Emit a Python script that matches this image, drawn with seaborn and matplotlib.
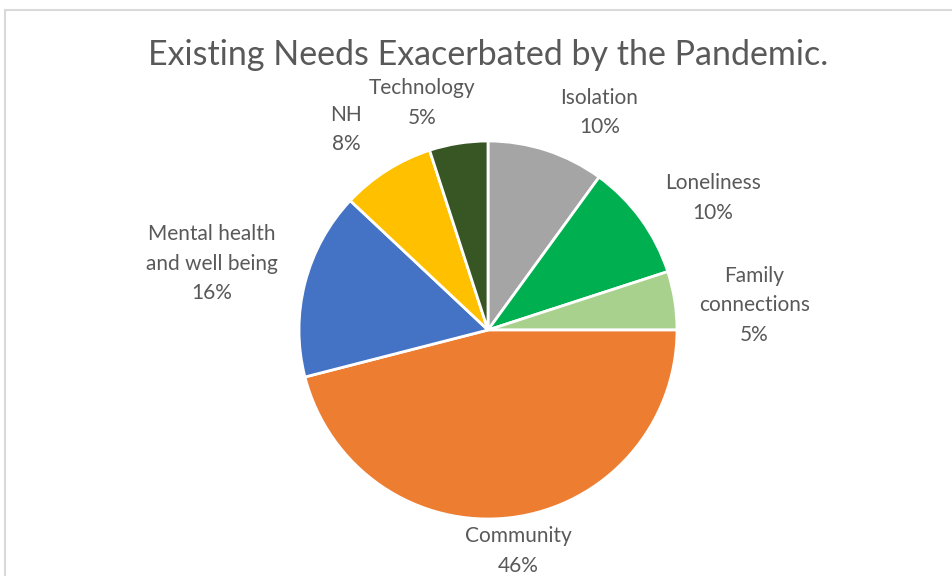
import matplotlib
matplotlib.use("Agg")
import matplotlib.pyplot as plt
import seaborn as sns
from matplotlib.patches import Rectangle

# Category shares, clockwise from twelve o'clock
categories = ["Isolation", "Loneliness", "Family\nconnections", "Community",
              "Mental health\nand well being", "NH", "Technology"]
values = [10, 10, 5, 46, 16, 8, 5]
colors = ["#A5A5A5", "#00B050", "#A9D18E", "#ED7D31", "#4472C4", "#FFC000", "#375623"]
# Label anchor points in units of the pie radius
label_xy = [(0.59, 1.15), (1.19, 0.70), (1.41, 0.13), (0.16, -1.17),
            (-1.46, 0.35), (-0.75, 1.06), (-0.35, 1.20)]
title = "Existing Needs Exacerbated by the Pandemic."

sns.set_theme(style="white")
plt.rcParams["font.family"] = ["Lato", "DejaVu Sans"]
text_color = "#595959"

W, H = 952, 576
fig = plt.figure(figsize=(W / 100, H / 100), dpi=100)
fig.patch.set_facecolor("white")

# Chart-area frame
fig.patches.append(Rectangle((5 / W, -0.1), 1.2, (H - 10) / H + 0.1,
                             transform=fig.transFigure, fill=False,
                             edgecolor="#D9D9D9", linewidth=1.5))

cx, cy, r = 488, 330, 189
ax = fig.add_axes([(cx - r) / W, (H - cy - r) / H, 2 * r / W, 2 * r / H])
ax.pie(values, colors=colors, startangle=90, counterclock=False,
       wedgeprops=dict(edgecolor="white", linewidth=2))
ax.set_xlim(-1, 1)
ax.set_ylim(-1, 1)
ax.set_aspect("equal")
ax.axis("off")

for name, v, (x, y) in zip(categories, values, label_xy):
    ax.text(x, y, f"{name}\n{v}%", ha="center", va="center", fontsize=15,
            color=text_color, linespacing=1.6, clip_on=False)

fig.text(488 / W, 1 - 55 / H, title, ha="center", va="center",
         fontsize=24.5, color=text_color)

fig.savefig("out.png", dpi=100, facecolor="white")
